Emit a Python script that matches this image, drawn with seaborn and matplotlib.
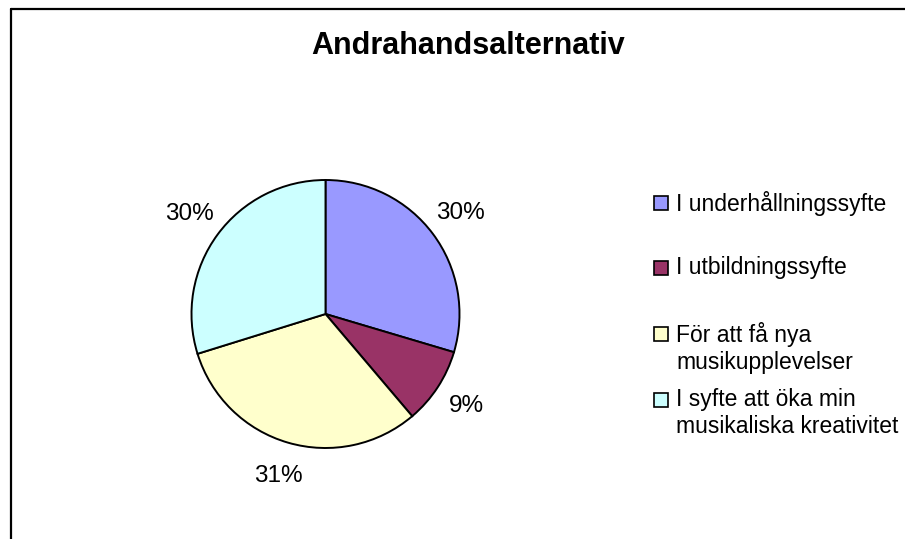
import matplotlib
matplotlib.use("Agg")
import matplotlib.pyplot as plt
import seaborn as sns
from matplotlib.lines import Line2D
from matplotlib.patches import Rectangle

# ---- data ----
title = "Andrahandsalternativ"
categories = [
    "I underhållningssyfte",
    "I utbildningssyfte",
    "För att få nya\nmusikupplevelser",
    "I syfte att öka min\nmusikaliska kreativitet",
]
shares = [29.6, 9.2, 31.4, 29.8]
colors = ["#9999FF", "#993366", "#FFFFCC", "#CCFFFF"]

sns.set_theme(style="white")
plt.rcParams["font.family"] = ["Liberation Sans", "DejaVu Sans"]
plt.rcParams["text.color"] = "black"

W, H = 905, 539
fig = plt.figure(figsize=(W / 100, H / 100), dpi=100)
fig.patch.set_facecolor("white")

# pie axes: center (325, 314) px, radius 134 px
cx, cy, r = 325.5, 314, 134
ax = fig.add_axes([(cx - r) / W, (H - cy - r) / H, 2 * r / W, 2 * r / H])
wedges, texts, autotexts = ax.pie(
    shares,
    colors=colors,
    startangle=90,
    counterclock=False,
    autopct=lambda p: f"{p:.0f}%",
    pctdistance=1.26,
    wedgeprops=dict(edgecolor="black", linewidth=1.4),
    textprops=dict(fontsize=17.5, color="black"),
)
ax.set_xlim(-1, 1)
ax.set_ylim(-1, 1)
ax.set_aspect("equal")
ax.axis("off")

fig.text(0.5 * (310 + 626) / W, 1 - 46 / H, title, ha="center", va="center",
         fontsize=22, fontweight="bold", color="black")

# legend (Excel style: marker aligned with first text line)
first_line_y = [203, 268, 334, 400]
for lab, col, yy in zip(categories, colors, first_line_y):
    fig.patches.append(Rectangle(((654) / W, 1 - (yy + 7) / H), 14 / W, 14 / H,
                                 transform=fig.transFigure, facecolor=col,
                                 edgecolor="black", linewidth=1.2))
    fig.text(676 / W, 1 - (yy - 12) / H, lab, ha="left", va="top",
             fontsize=16.5, linespacing=1.2, color="black")

# outer frame (left and top visible)
fig.add_artist(Line2D([10.5 / W, 10.5 / W], [0, 1 - 8.5 / H], transform=fig.transFigure,
                      color="black", linewidth=1.6))
fig.add_artist(Line2D([10.5 / W, 1], [1 - 8.5 / H, 1 - 8.5 / H], transform=fig.transFigure,
                      color="black", linewidth=1.6))

fig.savefig("out.png", dpi=100, facecolor="white")
